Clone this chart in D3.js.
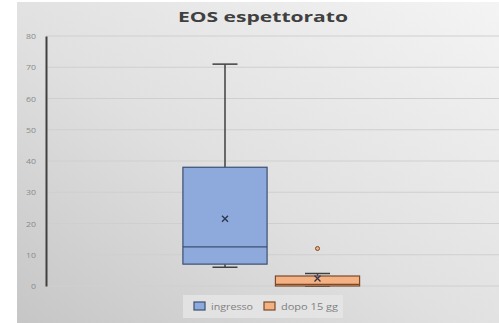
<!DOCTYPE html>
<html>
<head>
<meta charset="utf-8">
<script src="https://cdn.jsdelivr.net/npm/d3@7"></script>
<style>
  html, body { margin: 0; padding: 0; background: #ffffff; }
  svg { display: block; }
</style>
</head>
<body>
<svg id="chart" width="499" height="323"></svg>
<script>
// Box plot data: eosinophils in sputum, at admission and after 15 days
const categories = ["ingresso", "dopo 15 gg"];
const whiskerLow = [6, 0];
const quartile1 = [7, 0];
const medians = [12.5, 0.5];
const quartile3 = [38, 3.2];
const whiskerHigh = [71, 4];
const means = [21.5, 2.4];
const outliers = [[], [12]];
const yTicks = [0, 10, 20, 30, 40, 50, 60, 70, 80];

const fills = ["#8eaadc", "#f4b183"];
const strokes = ["#3b4f72", "#7a4a2a"];

const W = 499, H = 323;
const plot = { left: 46, right: 496.5, top: 36, bottom: 286 };

const svg = d3.select("#chart");

// panel background with soft diagonal shading
const defs = svg.append("defs");
const grad = defs.append("linearGradient")
  .attr("id", "bg").attr("x1", "100%").attr("y1", "0%").attr("x2", "0%").attr("y2", "100%");
grad.append("stop").attr("offset", "0%").attr("stop-color", "#f4f4f4");
grad.append("stop").attr("offset", "55%").attr("stop-color", "#e0e0e0");
grad.append("stop").attr("offset", "100%").attr("stop-color", "#c6c6c6");

svg.append("rect").attr("x", 17).attr("y", 2).attr("width", W - 17).attr("height", H - 2)
  .attr("fill", "url(#bg)");

const y = d3.scaleLinear().domain([0, 80]).range([plot.bottom, plot.top]);
const x = d3.scalePoint().domain(categories).range([plot.left, plot.right]).padding(1.935);
const boxW = x.step() * 0.91;
const capW = 25;

// gridlines
svg.append("g")
  .selectAll("line").data(yTicks).join("line")
  .attr("x1", plot.left).attr("x2", W)
  .attr("y1", d => y(d)).attr("y2", d => y(d))
  .attr("stroke", "#cfcfcf").attr("stroke-width", 1.2);

// y axis with labels
const yAxis = d3.axisLeft(y).tickValues(yTicks).tickSize(0).tickPadding(10);
const gy = svg.append("g").attr("transform", `translate(${plot.left},0)`).call(yAxis);
gy.select(".domain").attr("stroke", "#404040").attr("stroke-width", 2);
gy.selectAll("text")
  .attr("font-family", "'Open Sans', sans-serif").attr("font-size", 8)
  .attr("fill", "#8a8a8a")
  .attr("textLength", d => d === 0 ? 5 : 10)
  .attr("lengthAdjust", "spacingAndGlyphs");

// boxes
const data = categories.map((c, i) => ({
  c, i, lo: whiskerLow[i], q1: quartile1[i], med: medians[i], q3: quartile3[i],
  hi: whiskerHigh[i], mean: means[i], out: outliers[i]
}));

const g = svg.append("g");
data.forEach(d => {
  const cx = x(d.c);
  const col = "#404040";
  // whiskers
  g.append("line").attr("x1", cx).attr("x2", cx).attr("y1", y(d.q3)).attr("y2", y(d.hi))
    .attr("stroke", col).attr("stroke-width", 1.5);
  g.append("line").attr("x1", cx).attr("x2", cx).attr("y1", y(d.q1)).attr("y2", y(d.lo))
    .attr("stroke", col).attr("stroke-width", 1.5);
  [d.hi, d.lo].forEach(v => {
    g.append("line").attr("x1", cx - capW / 2).attr("x2", cx + capW / 2)
      .attr("y1", y(v)).attr("y2", y(v)).attr("stroke", col).attr("stroke-width", 1.5);
  });
  // box
  g.append("rect").attr("x", cx - boxW / 2).attr("width", boxW)
    .attr("y", y(d.q3)).attr("height", y(d.q1) - y(d.q3))
    .attr("fill", fills[d.i]).attr("stroke", strokes[d.i]).attr("stroke-width", 1.2);
  // median
  g.append("line").attr("x1", cx - boxW / 2).attr("x2", cx + boxW / 2)
    .attr("y1", y(d.med)).attr("y2", y(d.med))
    .attr("stroke", strokes[d.i]).attr("stroke-width", 1.2);
  // mean marker
  const m = 3;
  const my = y(d.mean);
  g.append("path")
    .attr("d", `M${cx - m},${my - m}L${cx + m},${my + m}M${cx - m},${my + m}L${cx + m},${my - m}`)
    .attr("stroke", "#303850").attr("stroke-width", 1.4).attr("fill", "none");
  // outliers
  d.out.forEach(v => {
    g.append("circle").attr("cx", cx).attr("cy", y(v)).attr("r", 2)
      .attr("fill", fills[d.i]).attr("stroke", strokes[d.i]).attr("stroke-width", 1);
  });
});

// title
svg.append("text").attr("x", 263).attr("y", 22).attr("text-anchor", "middle")
  .attr("font-family", "'Open Sans', sans-serif").attr("font-weight", "bold")
  .attr("font-size", 14.5).attr("fill", "#404040")
  .attr("textLength", 170).attr("lengthAdjust", "spacingAndGlyphs")
  .text("EOS espettorato");

// legend
const lg = svg.append("g");
lg.append("rect").attr("x", 183).attr("y", 295).attr("width", 160).attr("height", 23)
  .attr("fill", "#e6e6e6").attr("opacity", 0.8);
const legendX = [194, 264];
const legendLen = [42, 57];
categories.forEach((c, i) => {
  lg.append("rect").attr("x", legendX[i]).attr("y", 302).attr("width", 11).attr("height", 8)
    .attr("fill", fills[i]).attr("stroke", strokes[i]).attr("stroke-width", 1.2);
  lg.append("text").attr("x", legendX[i] + 17).attr("y", 309.5)
    .attr("font-family", "'Open Sans', sans-serif").attr("font-size", 8.5)
    .attr("fill", "#808080")
    .attr("textLength", legendLen[i]).attr("lengthAdjust", "spacingAndGlyphs")
    .text(c);
});
</script>
</body>
</html>
